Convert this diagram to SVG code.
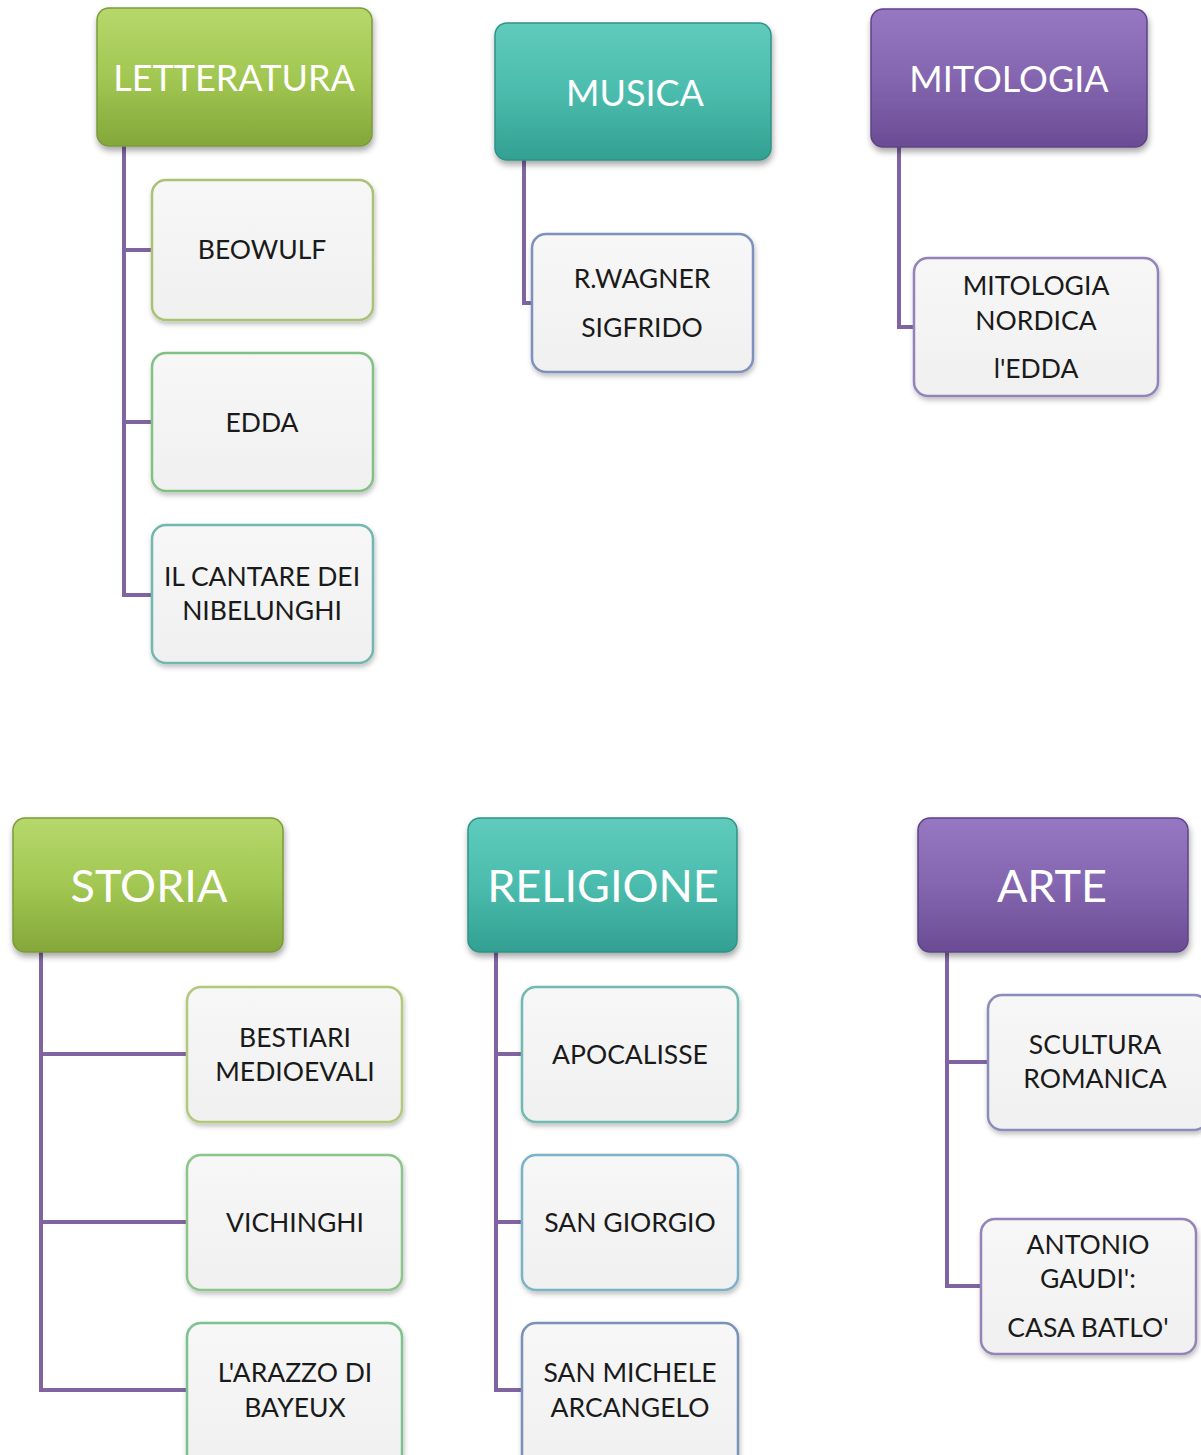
<svg xmlns="http://www.w3.org/2000/svg" width="1201" height="1455" viewBox="0 0 1201 1455">
<defs>
<linearGradient id="gGreen" x1="0" y1="0" x2="0" y2="1"><stop offset="0" stop-color="#b6d86c"/><stop offset="0.5" stop-color="#a2c752"/><stop offset="1" stop-color="#84a73a"/></linearGradient>
<linearGradient id="gTeal" x1="0" y1="0" x2="0" y2="1"><stop offset="0" stop-color="#5fcbbd"/><stop offset="0.5" stop-color="#4bbcad"/><stop offset="1" stop-color="#32a092"/></linearGradient>
<linearGradient id="gPurple" x1="0" y1="0" x2="0" y2="1"><stop offset="0" stop-color="#9677c2"/><stop offset="0.5" stop-color="#8466b0"/><stop offset="1" stop-color="#6a4c93"/></linearGradient>
<linearGradient id="gChild" x1="0" y1="0" x2="0" y2="1"><stop offset="0" stop-color="#f7f7f7"/><stop offset="1" stop-color="#f0f0f0"/></linearGradient>
<filter id="sh" x="-10%" y="-10%" width="125%" height="130%"><feDropShadow dx="1" dy="4" stdDeviation="3" flood-color="#000" flood-opacity="0.35"/></filter>
<filter id="shc" x="-10%" y="-10%" width="125%" height="130%"><feDropShadow dx="1" dy="3" stdDeviation="2.5" flood-color="#000" flood-opacity="0.25"/></filter>
</defs>
<style>
.hd{stroke-width:1.5;filter:url(#sh)}
.hg{fill:url(#gGreen);stroke:#7c9a3a}
.ht{fill:url(#gTeal);stroke:#2f9385}
.hp{fill:url(#gPurple);stroke:#5d4386}
.ch{fill:url(#gChild);stroke-width:2.5;filter:url(#shc)}
.ht1{font-family:Lato,"Liberation Sans",sans-serif;fill:#ffffff;text-anchor:middle;font-size:36px}
.ht2{font-family:Lato,"Liberation Sans",sans-serif;fill:#ffffff;text-anchor:middle;font-size:45px}
.ct{font-family:Lato,"Liberation Sans",sans-serif;fill:#1a1a1a;text-anchor:middle;font-size:26.5px}
.cn{fill:none;stroke:#8064a2;stroke-width:4}
</style>
<g id="connectors">
<path class="cn" d="M124 146 V595 H152 M124 250 H152 M124 422 H152"/>
<path class="cn" d="M524 160 V303 H532"/>
<path class="cn" d="M899 147 V327 H914"/>
<path class="cn" d="M41 952 V1390 H187 M41 1054 H187 M41 1222 H187"/>
<path class="cn" d="M496 952 V1390 H522 M496 1054 H522 M496 1222 H522"/>
<path class="cn" d="M947 952 V1286 H981 M947 1062 H988"/>
</g>
<g id="letteratura"><rect class="hd hg" x="97" y="8" width="275" height="138" rx="12"/><text class="ht1" x="234" y="91">LETTERATURA</text></g>
<g id="musica"><rect class="hd ht" x="495" y="23" width="276" height="137" rx="12"/><text class="ht1" x="635" y="106">MUSICA</text></g>
<g id="mitologia"><rect class="hd hp" x="871" y="9" width="276" height="138" rx="12"/><text class="ht1" x="1009" y="92">MITOLOGIA</text></g>
<g id="storia"><rect class="hd hg" x="13" y="818" width="270" height="134" rx="12"/><text class="ht2" x="149" y="902">STORIA</text></g>
<g id="religione"><rect class="hd ht" x="468" y="818" width="269" height="134" rx="12"/><text class="ht2" x="603" y="902">RELIGIONE</text></g>
<g id="arte"><rect class="hd hp" x="918" y="818" width="270" height="134" rx="12"/><text class="ht2" x="1052" y="902">ARTE</text></g>

<g id="beowulf"><rect class="ch" x="152" y="180" width="221" height="140" rx="14" stroke="#a9c274"/><text class="ct" x="262" y="259">BEOWULF</text></g>
<g id="edda"><rect class="ch" x="152" y="353" width="221" height="138" rx="14" stroke="#82c184"/><text class="ct" x="262" y="432">EDDA</text></g>
<g id="nibelunghi"><rect class="ch" x="152" y="525" width="221" height="138" rx="14" stroke="#72b8ae"/><text class="ct" x="262" y="586">IL CANTARE DEI</text><text class="ct" x="262" y="620">NIBELUNGHI</text></g>
<g id="wagner"><rect class="ch" x="532" y="234" width="221" height="138" rx="14" stroke="#8090bd"/><text class="ct" x="642" y="288">R.WAGNER</text><text class="ct" x="642" y="337">SIGFRIDO</text></g>
<g id="mitologia-nordica"><rect class="ch" x="914" y="258" width="244" height="138" rx="14" stroke="#9283ba"/><text class="ct" x="1036" y="295">MITOLOGIA</text><text class="ct" x="1036" y="330">NORDICA</text><text class="ct" x="1036" y="378">l'EDDA</text></g>

<g id="bestiari"><rect class="ch" x="187" y="987" width="215" height="135" rx="14" stroke="#b2c97a"/><text class="ct" x="295" y="1047">BESTIARI</text><text class="ct" x="295" y="1081">MEDIOEVALI</text></g>
<g id="vichinghi"><rect class="ch" x="187" y="1155" width="215" height="135" rx="14" stroke="#8bc58b"/><text class="ct" x="295" y="1232">VICHINGHI</text></g>
<g id="arazzo"><rect class="ch" x="187" y="1323" width="215" height="150" rx="14" stroke="#7cc28e"/><text class="ct" x="295" y="1382">L'ARAZZO DI</text><text class="ct" x="295" y="1417">BAYEUX</text></g>
<g id="apocalisse"><rect class="ch" x="522" y="987" width="216" height="135" rx="14" stroke="#72bab0"/><text class="ct" x="630" y="1064">APOCALISSE</text></g>
<g id="san-giorgio"><rect class="ch" x="522" y="1155" width="216" height="135" rx="14" stroke="#7ab3c6"/><text class="ct" x="630" y="1232">SAN GIORGIO</text></g>
<g id="san-michele"><rect class="ch" x="522" y="1323" width="216" height="150" rx="14" stroke="#7a91b8"/><text class="ct" x="630" y="1382">SAN MICHELE</text><text class="ct" x="630" y="1417">ARCANGELO</text></g>
<g id="scultura"><rect class="ch" x="988" y="995" width="220" height="135" rx="14" stroke="#8a8cbb"/><text class="ct" x="1095" y="1054">SCULTURA</text><text class="ct" x="1095" y="1088">ROMANICA</text></g>
<g id="gaudi"><rect class="ch" x="981" y="1219" width="215" height="135" rx="14" stroke="#9484b6"/><text class="ct" x="1088" y="1254">ANTONIO</text><text class="ct" x="1088" y="1288">GAUDI':</text><text class="ct" x="1088" y="1337">CASA BATLO'</text></g>
</svg>
